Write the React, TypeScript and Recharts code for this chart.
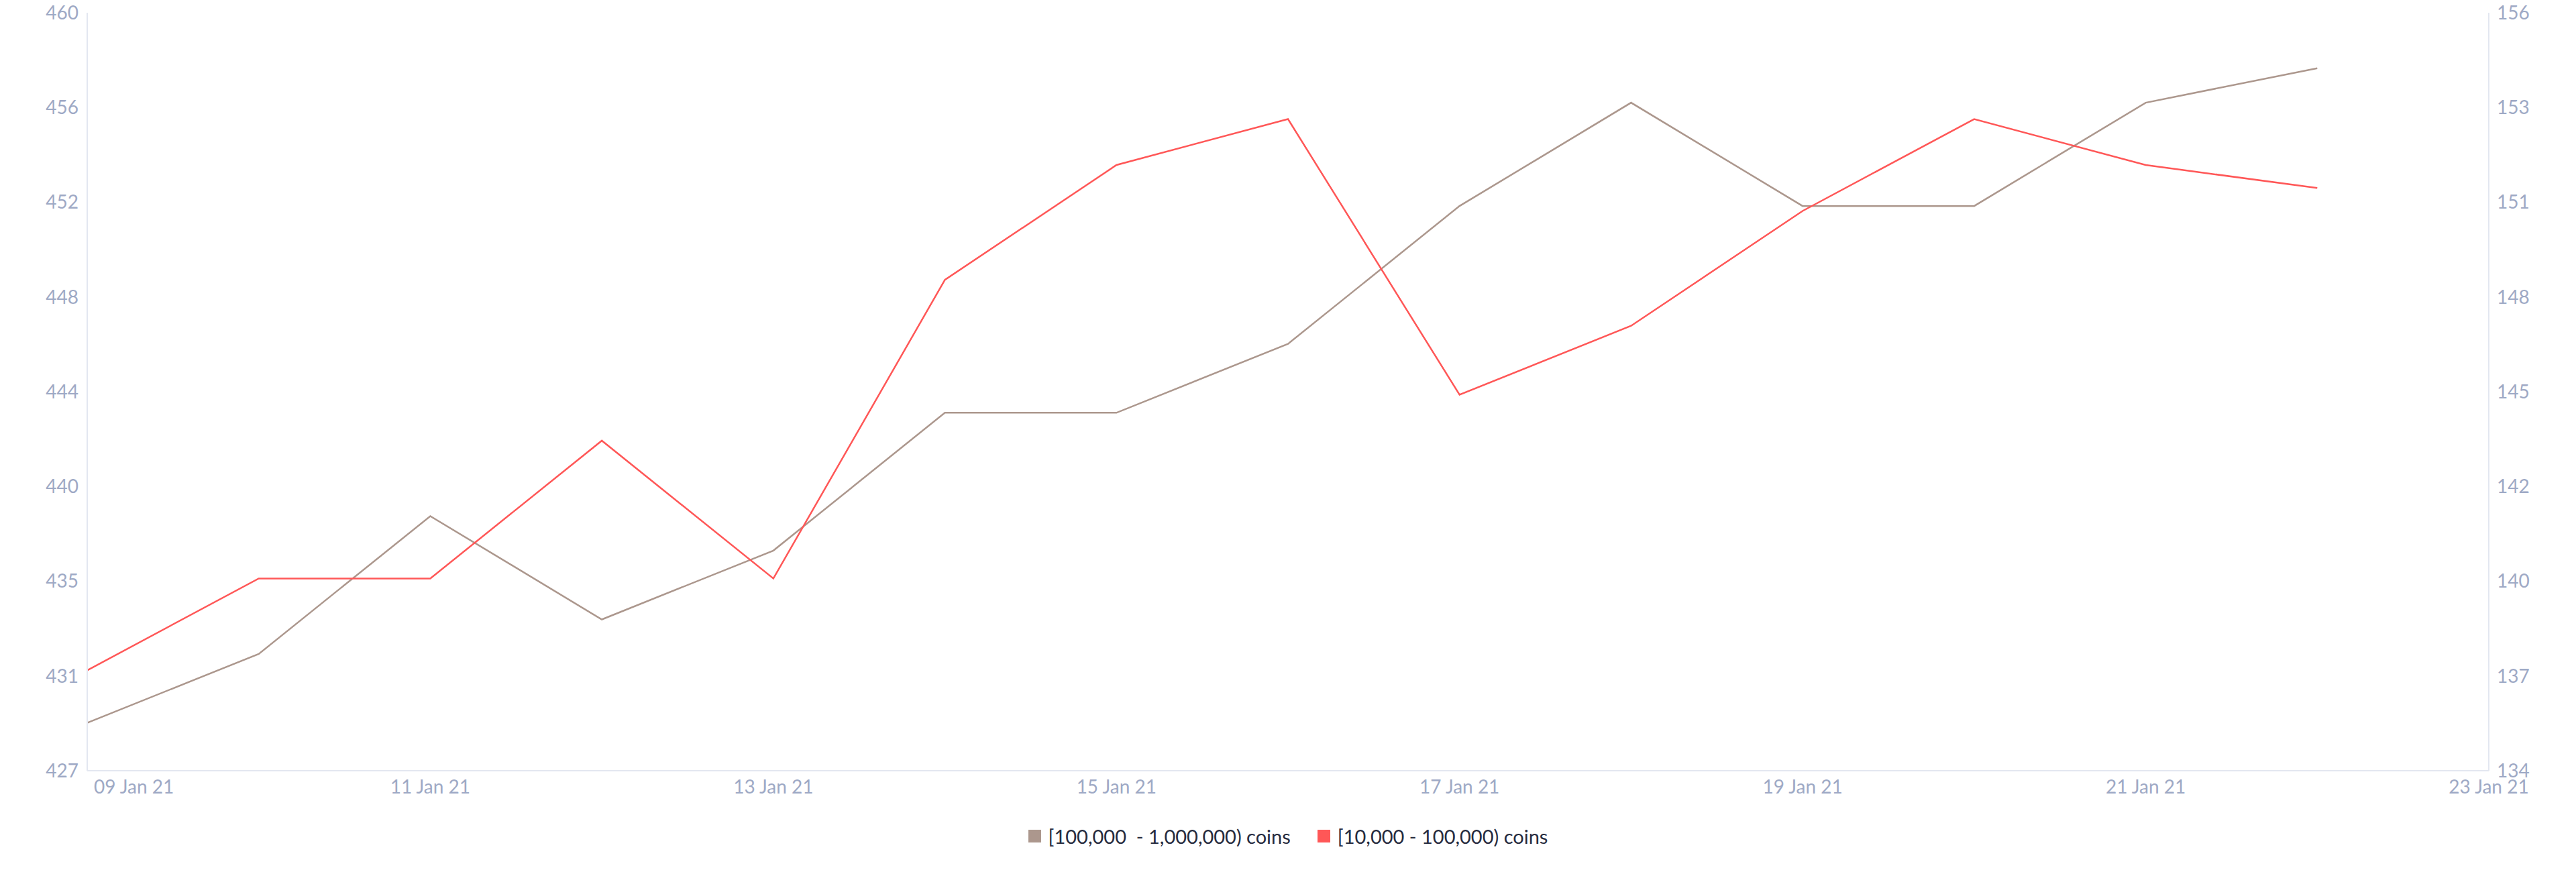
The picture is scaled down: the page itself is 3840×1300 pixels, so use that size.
import React from "react";
import { LineChart, Line, XAxis, YAxis } from "recharts";

// days of the series
const DATES = [
  "2021-01-09",
  "2021-01-10",
  "2021-01-11",
  "2021-01-12",
  "2021-01-13",
  "2021-01-14",
  "2021-01-15",
  "2021-01-16",
  "2021-01-17",
  "2021-01-18",
  "2021-01-19",
  "2021-01-20",
  "2021-01-21",
  "2021-01-22",
];

// [100,000 - 1,000,000) coins, right axis
const BIG_HOLDERS = [135, 137, 141, 138, 140, 144, 144, 146, 150, 153, 150, 150, 153, 154];
// [10,000 - 100,000) coins, left axis
const MID_HOLDERS = [431, 435, 435, 441, 435, 448, 453, 455, 443, 446, 451, 455, 453, 452];

const X_TICKS = [
  "2021-01-09",
  "2021-01-11",
  "2021-01-13",
  "2021-01-15",
  "2021-01-17",
  "2021-01-19",
  "2021-01-21",
  "2021-01-23",
];
const LEFT_TICK_LABELS = ["427", "431", "435", "440", "444", "448", "452", "456", "460"];
const RIGHT_TICK_LABELS = ["134", "137", "140", "142", "145", "148", "151", "153", "156"];

const LEFT_DOMAIN: [number, number] = [426.63, 459.63];
const RIGHT_DOMAIN: [number, number] = [133.61, 155.61];

const SERIES = [
  { key: "big", name: "[100,000  - 1,000,000) coins", color: "#ac978d", axis: "right" },
  { key: "mid", name: "[10,000 - 100,000) coins", color: "#ff5757", axis: "left" },
];

const COLORS = {
  tick: "#9ea9c5",
  axis: "#e3e7f0",
  legendText: "#262b3e",
};
const FONT = "Lato, 'Open Sans', sans-serif";
const MONTHS = ["Jan", "Feb", "Mar", "Apr", "May", "Jun", "Jul", "Aug", "Sep", "Oct", "Nov", "Dec"];

const toTime = (d: string) => Date.parse(d + "T00:00:00Z");
const fmtDate = (t: number) => {
  const d = new Date(t);
  const day = String(d.getUTCDate()).padStart(2, "0");
  const yr = String(d.getUTCFullYear()).slice(2);
  return `${day} ${MONTHS[d.getUTCMonth()]} ${yr}`;
};

const evenTicks = (domain: [number, number], n: number) =>
  Array.from({ length: n }, (_, i) => domain[0] + ((domain[1] - domain[0]) * i) / (n - 1));

const chartData = DATES.map((d, i) => ({
  t: toTime(d),
  big: BIG_HOLDERS[i],
  mid: MID_HOLDERS[i],
}));

const XTick = (props: any) => {
  const { x, y, payload, index } = props;
  const first = index === 0;
  return (
    <text
      x={first ? x + 10 : x}
      y={y}
      dy="0.71em"
      textAnchor={first ? "start" : "middle"}
      fill={COLORS.tick}
      fontSize={28}
      fontFamily={FONT}
    >
      {fmtDate(payload.value)}
    </text>
  );
};

const App: React.FC = () => {
  const leftTicks = evenTicks(LEFT_DOMAIN, LEFT_TICK_LABELS.length);
  const rightTicks = evenTicks(RIGHT_DOMAIN, RIGHT_TICK_LABELS.length);

  return (
    <div style={{ position: "relative", width: 3840, height: 1300, margin: -8, background: "#fff" }}>
      <LineChart
        width={3840}
        height={1300}
        data={chartData}
        margin={{ top: 19, right: 10, left: 10, bottom: 91 }}
      >
        <XAxis
          dataKey="t"
          type="number"
          scale="linear"
          domain={[toTime(X_TICKS[0]), toTime(X_TICKS[X_TICKS.length - 1])]}
          ticks={X_TICKS.map(toTime)}
          interval={0}
          height={60}
          tickLine={false}
          tickSize={0}
          tickMargin={14}
          axisLine={{ stroke: COLORS.axis, strokeWidth: 2 }}
          tick={<XTick />}
        />
        <YAxis
          yAxisId="left"
          orientation="left"
          width={120}
          domain={LEFT_DOMAIN}
          ticks={leftTicks}
          interval={0}
          allowDataOverflow
          tickLine={false}
          tickSize={0}
          tickMargin={13}
          axisLine={{ stroke: COLORS.axis, strokeWidth: 2 }}
          tick={{ fill: COLORS.tick, fontSize: 28, fontFamily: FONT }}
          tickFormatter={(_v: number, i: number) => LEFT_TICK_LABELS[i]}
        />
        <YAxis
          yAxisId="right"
          orientation="right"
          width={120}
          domain={RIGHT_DOMAIN}
          ticks={rightTicks}
          interval={0}
          allowDataOverflow
          tickLine={false}
          tickSize={0}
          tickMargin={12}
          axisLine={{ stroke: COLORS.axis, strokeWidth: 2 }}
          tick={{ fill: COLORS.tick, fontSize: 28, fontFamily: FONT }}
          tickFormatter={(_v: number, i: number) => RIGHT_TICK_LABELS[i]}
        />
        {SERIES.map((s) => (
          <Line
            key={s.key}
            yAxisId={s.axis}
            dataKey={s.key}
            name={s.name}
            type="linear"
            stroke={s.color}
            strokeWidth={2.5}
            dot={false}
            activeDot={false}
            isAnimationActive={false}
          />
        ))}
      </LineChart>
      {/* legend under the plot */}
      <div
        style={{
          position: "absolute",
          left: 0,
          top: 1229,
          width: 3840,
          display: "flex",
          justifyContent: "center",
          gap: 40,
          fontFamily: FONT,
          fontSize: 29,
          color: COLORS.legendText,
          whiteSpace: "pre",
        }}
      >
        {SERIES.map((s) => (
          <div key={s.key} style={{ display: "flex", alignItems: "center", gap: 11 }}>
            <span style={{ width: 19, height: 19, background: s.color, display: "inline-block" }} />
            <span>{s.name}</span>
          </div>
        ))}
      </div>
    </div>
  );
};

export default App;
